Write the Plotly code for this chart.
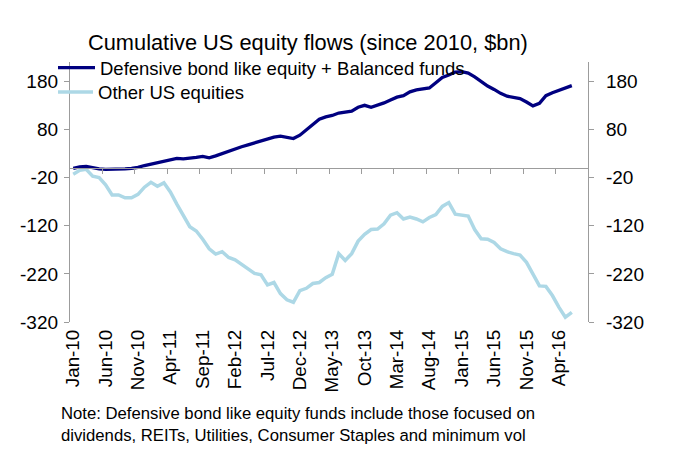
import plotly.graph_objects as go

months = ["Jan-10", "Jun-10", "Nov-10", "Apr-11", "Sep-11", "Feb-12", "Jul-12", "Dec-12",
          "May-13", "Oct-13", "Mar-14", "Aug-14", "Jan-15", "Jun-15", "Nov-15", "Apr-16"]

defensive = [-1, 2, 3, 0, -2, -3, -3, -3, -2, -1,
             1, 5, 8, 11, 14, 18, 20, 19, 20, 22,
             24, 21, 25, 30, 35, 40, 44, 48, 52, 57,
             61, 64, 66, 63, 61, 68, 79, 91, 101, 106,
             109, 114, 116, 118, 126, 130, 126, 130, 135, 141,
             147, 150, 158, 162, 164, 166, 177, 188, 193, 199,
             200, 197, 189, 179, 170, 163, 155, 149, 146, 144,
             137, 129, 134, 150, 156, 161, 166, 171]

other = [-13, -5, -3, -17, -20, -35, -56, -56, -62, -62,
         -55, -40, -30, -38, -31, -50, -75, -100, -122, -131,
         -148, -168, -179, -174, -186, -191, -200, -210, -219, -222,
         -243, -238, -261, -274, -279, -255, -250, -240, -238, -228,
         -221, -178, -192, -178, -152, -138, -128, -127, -116, -98,
         -93, -106, -102, -106, -112, -103, -97, -80, -72, -96,
         -98, -100, -128, -147, -148, -155, -168, -174, -178, -181,
         -196, -222, -245, -246, -265, -289, -310, -300]

y_ticks = [-320, -220, -120, -20, 80, 180]
y_range = [-320, 220]
n_categories = 80

idx = list(range(len(defensive)))
label_pos = list(range(0, 5 * len(months), 5))
boundary_ticks = [i + 4.5 for i in range(0, 75, 5)]
x_range = [-0.5, n_categories - 0.5]

FONT = "Liberation Sans, Arial, Helvetica, sans-serif"
AX = "#9c9c9c"
NAVY = "#000080"
LIGHT = "#ADD8E6"
OFF = 8  # the page body has a default 8px margin; compensate so the plot lands where intended

fig = go.Figure()
fig.add_trace(go.Scatter(x=idx, y=other, mode="lines", name="Other US equities",
                         line=dict(color=LIGHT, width=3.5), legend="legend2"))
fig.add_trace(go.Scatter(x=idx, y=defensive, mode="lines", name="Defensive bond like equity + Balanced funds",
                         line=dict(color=NAVY, width=3.3), legend="legend"))
# invisible helpers so the zero-line axis and right-hand axis are drawn
fig.add_trace(go.Scatter(x=idx, y=defensive, mode="lines", line=dict(width=0), opacity=0,
                         xaxis="x2", yaxis="y", showlegend=False, hoverinfo="skip"))
fig.add_trace(go.Scatter(x=idx, y=other, mode="lines", line=dict(width=0), opacity=0,
                         xaxis="x", yaxis="y2", showlegend=False, hoverinfo="skip"))

yax = dict(range=y_range, tickmode="array", tickvals=y_ticks, ticktext=[str(v) for v in y_ticks],
           showline=True, linecolor=AX, linewidth=1.3, ticks="outside", ticklen=5, tickcolor=AX,
           tickwidth=1.3, showgrid=False, zeroline=False, tickfont=dict(size=19, color="black", family=FONT))

zero_pos = (0 - y_range[0]) / (y_range[1] - y_range[0])

fig.update_layout(
    width=674, height=449,
    margin=dict(l=70 - OFF, r=86 + OFF, t=62 - OFF, b=127 + OFF, autoexpand=False),
    paper_bgcolor="white", plot_bgcolor="white",
    font=dict(family=FONT, color="black"),
    title=dict(text="Cumulative US equity flows (since 2010, $bn)", x=(88 - OFF) / 674, xanchor="left",
               y=1 - (42 - OFF) / 449, yanchor="middle", font=dict(size=21.8, family=FONT, color="black")),
    xaxis=dict(range=x_range, tickmode="array", tickvals=label_pos, ticktext=months, tickangle=-90,
               showline=False, ticks="", showgrid=False, zeroline=False, ticklabelstandoff=3,
               tickfont=dict(size=18.8, color="black", family=FONT)),
    xaxis2=dict(range=x_range, overlaying="x", anchor="free", position=zero_pos, side="bottom",
                tickmode="array", tickvals=boundary_ticks, showticklabels=False, ticks="outside",
                ticklen=5, tickcolor=AX, tickwidth=1.3, showline=True, linecolor=AX, linewidth=1.3,
                showgrid=False, zeroline=False),
    yaxis=dict(**yax, side="left", anchor="x", ticklabelstandoff=2),
    yaxis2=dict(**yax, side="right", overlaying="y", anchor="x", ticklabelstandoff=8),
    legend=dict(x=(53 - 70) / 518, xanchor="left", y=(322 - 68) / 260, yanchor="middle",
                bgcolor="rgba(0,0,0,0)", font=dict(size=18.5, family=FONT, color="black"), itemwidth=37),
    legend2=dict(x=(53 - 70) / 518, xanchor="left", y=(322 - 92.5) / 260, yanchor="middle",
                 bgcolor="rgba(0,0,0,0)", font=dict(size=18.5, family=FONT, color="black"), itemwidth=35),
    showlegend=True,
    annotations=[dict(text="Note: Defensive bond like equity funds include those focused on<br>"
                           "dividends, REITs, Utilities, Consumer Staples and minimum vol",
                      xref="paper", yref="paper", x=-0.0216, y=-0.306, xanchor="left", yanchor="top",
                      align="left", showarrow=False, font=dict(size=16.7, family=FONT, color="black"))],
)

fig.write_html("out.html")
